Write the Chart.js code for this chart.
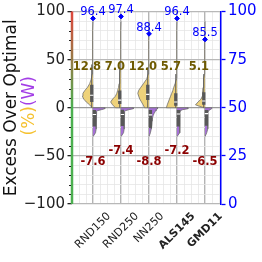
<!DOCTYPE html>
<html>
<head>
<meta charset="utf-8">
<script src="https://cdn.jsdelivr.net/npm/chart.js@4.4.0/dist/chart.umd.min.js"></script>
<style>
  html, body { margin: 0; padding: 0; background: #fff; }
</style>
</head>
<body>
<canvas id="chart" width="262" height="262"></canvas>
<script>
const categories = ['RND150', 'RND250', 'NN250', 'ALS145', 'GMD11'];
const boldCategories = ['ALS145', 'GMD11'];

const meanPct = [12.8, 7.0, 12.0, 5.7, 5.1];
const meanWatt = [-7.6, -7.4, -8.8, -7.2, -6.5];
const maxPct = [96.4, 97.4, 88.4, 96.4, 85.5];

// violin half widths (x units), % side
const pctLevels = [0, 3, 6, 9, 12, 15, 18, 21, 25, 30, 35, 40, 50, 60, 70, 80, 90];
const rnd150Pct = [0.03, 0.12, 0.24, 0.33, 0.38, 0.36, 0.29, 0.2, 0.12, 0.06, 0.03, 0.02, 0.03, 0.01, 0.01, 0.01, 0];
const rnd250Pct = [0.2, 0.3, 0.37, 0.3, 0.2, 0.15, 0.12, 0.09, 0.07, 0.05, 0.04, 0.03, 0.02, 0.01, 0.01, 0.01, 0];
const nn250Pct = [0.16, 0.21, 0.27, 0.33, 0.37, 0.4, 0.37, 0.3, 0.2, 0.08, 0.03, 0.02, 0.01, 0.01, 0.01, 0, 0];
const als145Pct = [0.38, 0.35, 0.31, 0.27, 0.23, 0.19, 0.15, 0.12, 0.07, 0.02, 0.01, 0.01, 0.01, 0.01, 0.01, 0.01, 0];
const gmd11Pct = [0.04, 0.34, 0.25, 0.14, 0.1, 0.09, 0.08, 0.07, 0.06, 0.04, 0.02, 0.02, 0.01, 0.01, 0.01, 0, 0];
const pctWidths = [rnd150Pct, rnd250Pct, nn250Pct, als145Pct, gmd11Pct];

// W side
const wattLevels = [0, -1, -2, -3, -4, -6, -8, -10, -14, -18, -22, -26, -30];
const rnd150Watt = [0.42, 0.42, 0.3, 0.16, 0.13, 0.12, 0.12, 0.11, 0.11, 0.11, 0.11, 0.09, 0];
const rnd250Watt = [0.44, 0.44, 0.28, 0.16, 0.13, 0.12, 0.12, 0.11, 0.11, 0.11, 0.11, 0.09, 0];
const nn250Watt = [0.32, 0.3, 0.27, 0.25, 0.22, 0.18, 0.15, 0.13, 0.11, 0.1, 0.08, 0.05, 0];
const als145Watt = [0.39, 0.39, 0.2, 0.12, 0.11, 0.1, 0.1, 0.1, 0.1, 0.1, 0.1, 0.08, 0];
const gmd11Watt = [0.25, 0.24, 0.18, 0.13, 0.11, 0.1, 0.1, 0.1, 0.1, 0.1, 0.09, 0.06, 0];
const wattWidths = [rnd150Watt, rnd250Watt, nn250Watt, als145Watt, gmd11Watt];

// box plots
const pctQ1 = [6, 4, 8, 2, 3];
const pctMedian = [13, 8, 14, 6, 7];
const pctQ3 = [24, 18, 24, 15, 16];
const pctWhisker = [45, 40, 42, 35, 35];
const wattQ1 = [-2.4, -2.2, -2.4, -2.4, -2.4];
const wattMedian = [-7, -7, -7.5, -6.5, -6];
const wattQ3 = [-19.6, -19, -21, -19.6, -18.6];

const leftTicks = [-100, -50, 0, 50, 100];
const rightTicks = [0, 25, 50, 75, 100];

const FONT = "'DejaVu Sans', sans-serif";
const YELLOW = '#eed27a';
const PURPLE = '#a56fd6';
const BOX = '#585858';
const pctBoxX = -0.045;
const wattBoxX = 0.05;

Chart.defaults.font.family = FONT;

function violin(i, levels, widths, side, color) {
  const pts = [{ x: i, y: levels[0] }];
  levels.forEach((lv, k) => pts.push({ x: i + side * widths[k], y: lv }));
  pts.push({ x: i, y: levels[levels.length - 1] });
  return {
    type: 'scatter',
    data: pts,
    showLine: true,
    fill: 'shape',
    backgroundColor: color,
    borderColor: '#6e6e6e',
    borderWidth: 0.8,
    pointRadius: 0,
    order: 4
  };
}

function segs(dx, a, b) {
  const pts = [];
  categories.forEach((c, i) => {
    pts.push({ x: i + dx, y: a[i] }, { x: i + dx, y: b[i] }, { x: i + dx, y: null });
  });
  return pts;
}

const datasets = [];
categories.forEach((c, i) => {
  datasets.push(violin(i, pctLevels, pctWidths[i], -1, YELLOW));
  datasets.push(violin(i, wattLevels, wattWidths[i], 1, PURPLE));
});
datasets.push(
  { data: segs(pctBoxX, pctQ1.map(() => 0), pctWhisker), showLine: true, borderColor: BOX, borderWidth: 1, pointRadius: 0, order: 3 },
  { data: segs(pctBoxX, pctQ1, pctQ3), showLine: true, borderColor: BOX, borderWidth: 3.3, borderCapStyle: 'butt', pointRadius: 0, order: 2 },
  { data: segs(wattBoxX, wattQ1, wattQ3), showLine: true, borderColor: BOX, borderWidth: 3.3, borderCapStyle: 'butt', pointRadius: 0, order: 2 },
  { data: pctMedian.map((v, i) => ({ x: i + pctBoxX, y: v })), pointStyle: 'line', pointRadius: 1.7, pointBorderColor: '#fff', pointBorderWidth: 1.2, order: 1 },
  { data: wattMedian.map((v, i) => ({ x: i + wattBoxX, y: v })), pointStyle: 'line', pointRadius: 1.7, pointBorderColor: '#fff', pointBorderWidth: 1.2, order: 1 },
  { data: maxPct.map((v, i) => ({ x: i, y: v })), yAxisID: 'y2', pointStyle: 'rectRot', pointRadius: 2.4, backgroundColor: '#0000ff', borderColor: '#0000ff', order: 0 }
);

const extras = {
  id: 'extras',
  afterDraw(chart) {
    const ctx = chart.ctx;
    const { x, y, y2 } = chart.scales;
    const area = chart.chartArea;
    ctx.save();

    // left spine: red to green
    const grad = ctx.createLinearGradient(0, area.top, 0, area.bottom);
    grad.addColorStop(0, '#e0463c');
    grad.addColorStop(0.5, '#4caf50');
    grad.addColorStop(1, '#4caf50');
    ctx.strokeStyle = grad;
    ctx.lineWidth = 2.5;
    ctx.beginPath();
    ctx.moveTo(area.left, area.top);
    ctx.lineTo(area.left, area.bottom);
    ctx.stroke();

    // minor ticks
    ctx.strokeStyle = '#222';
    ctx.lineWidth = 1;
    for (let v = -100; v <= 100; v += 10) {
      if (leftTicks.includes(v)) continue;
      const py = Math.round(y.getPixelForValue(v)) + 0.5;
      ctx.beginPath();
      ctx.moveTo(area.left - 3, py);
      ctx.lineTo(area.left - 1, py);
      ctx.stroke();
    }

    // value labels
    ctx.textAlign = 'center';
    ctx.textBaseline = 'middle';
    categories.forEach((c, i) => {
      ctx.font = `bold 11.5px ${FONT}`;
      ctx.fillStyle = '#6e5a00';
      ctx.fillText(meanPct[i].toFixed(1), x.getPixelForValue(i - 0.22), y.getPixelForValue(42));
      ctx.fillStyle = '#8b0000';
      ctx.fillText(meanWatt[i].toFixed(1), x.getPixelForValue(i), y.getPixelForValue(i % 2 ? -45 : -56));
      ctx.font = `11.5px ${FONT}`;
      ctx.fillStyle = '#0000ff';
      ctx.fillText(maxPct[i].toFixed(1), x.getPixelForValue(i), y2.getPixelForValue(maxPct[i]) - 6);
    });

    // category labels, rotated 45 and centred under the tick
    categories.forEach((c, i) => {
      ctx.font = `${boldCategories.includes(c) ? 'bold ' : ''}11px ${FONT}`;
      const w = ctx.measureText(c).width;
      const h = (w + 13) * Math.SQRT1_2;
      ctx.save();
      ctx.translate(x.getPixelForValue(i), area.bottom + 6 + h / 2);
      ctx.rotate(-Math.PI / 4);
      ctx.fillStyle = '#222';
      ctx.fillText(c, 0, 0);
      ctx.restore();
    });

    // y title
    const cy = (area.top + area.bottom) / 2;
    ctx.font = `17px ${FONT}`;
    ctx.save();
    ctx.translate(12, cy);
    ctx.rotate(-Math.PI / 2);
    ctx.fillStyle = '#111';
    ctx.fillText('Excess Over Optimal', 0, 0);
    ctx.restore();
    ctx.save();
    ctx.translate(30, cy - 2);
    ctx.rotate(-Math.PI / 2);
    const a = '(%)', b = '(W)';
    const wa = ctx.measureText(a).width, wb = ctx.measureText(b).width;
    ctx.textAlign = 'left';
    ctx.fillStyle = '#f5c12e';
    ctx.fillText(a, -(wa + wb) / 2, 0);
    ctx.fillStyle = '#a33ee6';
    ctx.fillText(b, -(wa + wb) / 2 + wa, 0);
    ctx.restore();

    ctx.restore();
  }
};

const isWhole = (v) => Math.abs(v - Math.round(v)) < 1e-6;

new Chart(document.getElementById('chart'), {
  type: 'scatter',
  data: { datasets },
  options: {
    responsive: false,
    animation: false,
    layout: { padding: { left: 25, right: 2, top: 2, bottom: 2 } },
    plugins: { legend: { display: false }, tooltip: { enabled: false } },
    scales: {
      x: {
        type: 'linear',
        min: -0.75,
        max: 4.57,
        offset: false,
        afterFit: (s) => { s.height = 56; },
        ticks: { display: false, autoSkip: false, stepSize: 0.25, includeBounds: false, maxTicksLimit: 1000 },
        grid: {
          drawTicks: false,
          color: (c) => isWhole(c.tick.value) ? '#b4b4b4' : '#e6e6e6',
          lineWidth: (c) => isWhole(c.tick.value) ? 1.4 : 0.8
        },
        border: { display: false }
      },
      y: {
        position: 'left',
        min: -100,
        max: 100,
        afterFit: (s) => { s.width = 47; },
        ticks: {
          autoSkip: false,
          stepSize: 10,
          maxTicksLimit: 1000,
          padding: 2.5,
          color: '#222',
          font: { size: 15 },
          callback: (v) => leftTicks.includes(v) ? (v < 0 ? '\u2212' + Math.abs(v) : String(v)) : ''
        },
        grid: {
          tickLength: 4.5,
          tickColor: (c) => leftTicks.includes(c.tick.value) ? '#222' : 'transparent',
          color: (c) => c.tick.value === 0 ? '#9a9a9a' : (leftTicks.includes(c.tick.value) ? '#b8b8b8' : '#e6e6e6'),
          lineWidth: (c) => leftTicks.includes(c.tick.value) ? 1.3 : 0.8
        },
        border: { display: false }
      },
      y2: {
        position: 'right',
        min: 0,
        max: 100,
        afterFit: (s) => { s.width = 39; },
        ticks: {
          autoSkip: false,
          stepSize: 25,
          padding: 2.5,
          color: '#0000ff',
          font: { size: 15 },
          callback: (v) => rightTicks.includes(v) ? String(v) : ''
        },
        grid: { drawOnChartArea: false, tickLength: 4.5, tickColor: '#0000ff', tickWidth: 1.3 },
        border: { color: '#0000ff', width: 1.5 }
      }
    }
  },
  plugins: [extras]
});
</script>
</body>
</html>
